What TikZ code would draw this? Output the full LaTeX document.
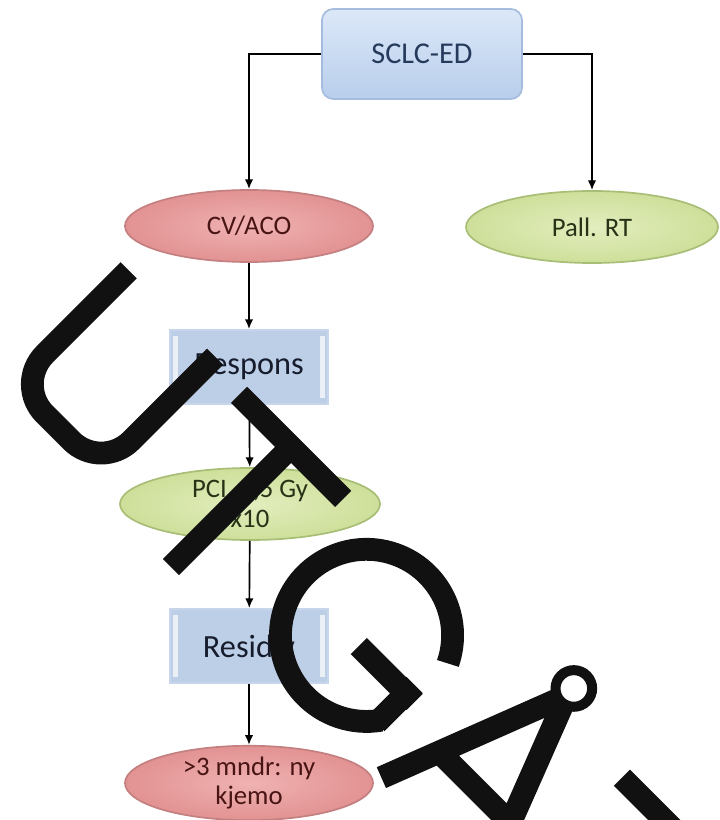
\documentclass[tikz,border=0pt]{standalone}
\usepackage{fontspec}
\setmainfont{Carlito}
\usetikzlibrary{shapes.geometric,arrows.meta}

\definecolor{topblue}{RGB}{220,232,248}
\definecolor{topblueb}{RGB}{184,206,236}
\definecolor{topline}{RGB}{165,188,222}
\definecolor{toptext}{RGB}{38,58,92}
\definecolor{flatblue}{RGB}{189,207,231}
\definecolor{flattext}{RGB}{22,28,44}
\definecolor{pinkin}{RGB}{240,178,178}
\definecolor{pinkout}{RGB}{226,146,146}
\definecolor{pinkline}{RGB}{196,128,128}
\definecolor{redtext}{RGB}{72,20,20}
\definecolor{greenin}{RGB}{226,238,190}
\definecolor{greenout}{RGB}{206,223,154}
\definecolor{greenline}{RGB}{168,190,118}
\definecolor{greentext}{RGB}{40,50,22}
\definecolor{wmark}{RGB}{17,17,17}

\tikzset{
  topbox/.style={rectangle, rounded corners=8pt, minimum width=5cm, minimum height=2.25cm,
    top color=topblue, bottom color=topblueb, draw=topline, text=toptext,
    font=\fontsize{21.5}{25}\selectfont},
  flatbox/.style={rectangle, minimum width=3.95cm, minimum height=1.85cm, fill=flatblue,
    draw=flatblue!85!white, text=flattext, font=\fontsize{23}{26}\selectfont,
    path picture={
      \fill[white, opacity=.7] ([xshift=2pt,yshift=-4pt]path picture bounding box.north west)
        rectangle ([xshift=6pt,yshift=4pt]path picture bounding box.south west);
      \fill[white, opacity=.7] ([xshift=-6pt,yshift=-4pt]path picture bounding box.north east)
        rectangle ([xshift=-2pt,yshift=4pt]path picture bounding box.south east);}},
  redell/.style={ellipse, minimum width=6.2cm, minimum height=1.8cm, inner sep=0pt,
    inner color=pinkin, outer color=pinkout, draw=pinkline, text=redtext, align=center,
    font=\fontsize{19}{21}\selectfont},
  greenell/.style={ellipse, minimum width=6.3cm, minimum height=1.8cm, inner sep=0pt,
    inner color=greenin, outer color=greenout, draw=greenline, text=greentext, align=center,
    font=\fontsize{19}{21}\selectfont},
  wm/.style={line width=0.57cm, draw=wmark}
}

\begin{document}
\begin{tikzpicture}[>={Latex[length=7pt,width=6pt]}, x=0.025cm, y=-0.025cm, line width=1.2pt]
\useasboundingbox (0,0) rectangle (719,820);

\node[topbox] (sclc) at (422,54) {SCLC-ED};
\node[redell] (cvaco) at (249,226) {CV/ACO};
\node[greenell] (pall) at (592,227) {Pall. RT};
\node[flatbox] (resp) at (249,367) {Respons};
\node[greenell, minimum width=6.5cm] (pci) at (250,504) {PCI, 2,5 Gy\\x10};
\node[flatbox] (resid) at (249,646) {Residiv};
\node[redell] (kjemo) at (249,783) {>3 mndr: ny\\kjemo};

\draw[->] (sclc.west) -| (cvaco.north);
\draw[->] (sclc.east) -| (pall.north);
\draw[->] (cvaco) -- (resp);
\draw[->] (resp) -- (pci);
\draw[->] (pci) -- (resid);
\draw[->] (resid) -- (kjemo);

% stamp
\begin{scope}
\clip (0,0) rectangle (719,820);
\begin{scope}[x={(0.017678cm,-0.017678cm)}, y={(0.017678cm,0.017678cm)}]
% U
\draw[wm, rounded corners=30pt] (282,-100) -- (282,-261) -- (404,-261) -- (404,-100);
% T
\draw[wm] (448,-110) -- (595,-110) (521.5,-110) -- (521.5,-280);
% G
\draw[wm] (708,-190) ++(26:86) arc[start angle=26, end angle=325, radius=86];
\draw[wm] (710,-203) -- (789,-203) (777,-191) -- (777,-245);
% A with ring
\draw[wm] (819,-280) -- (892,-91) (965,-280) -- (892,-91) (842,-221) -- (942,-221);
\draw[line width=0.25cm, draw=wmark, fill=white] (892,-81) circle[radius=18.3];
% T
\draw[wm] (989,-110) -- (1135,-110) (1062,-110) -- (1062,-280);
\end{scope}
\end{scope}
\end{tikzpicture}
\end{document}
